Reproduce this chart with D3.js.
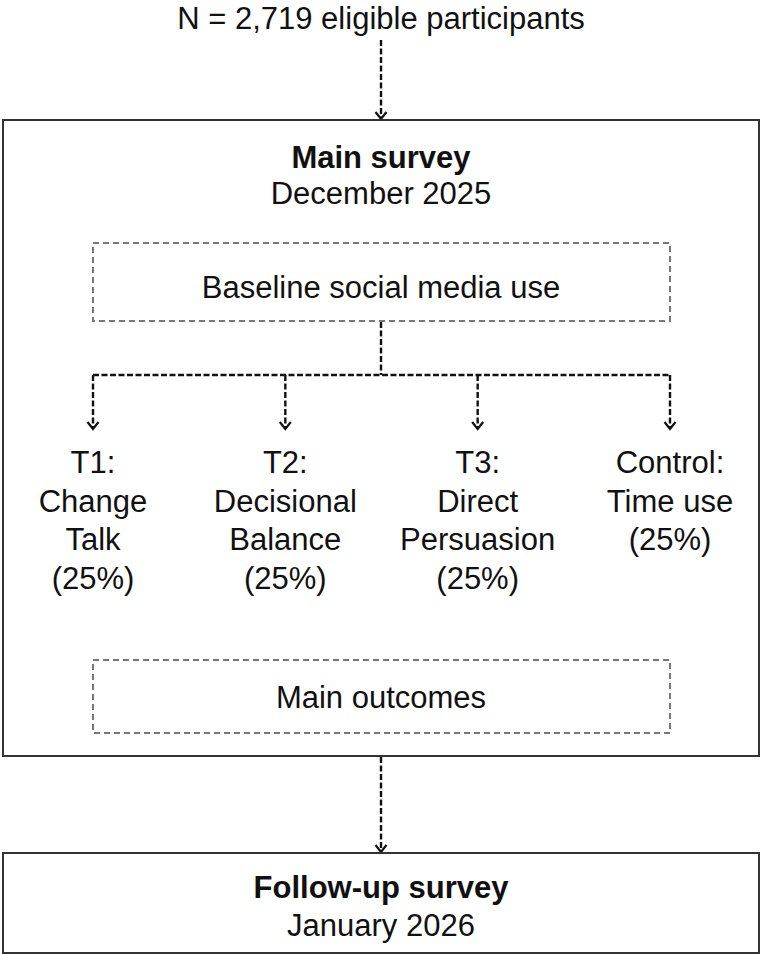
<!DOCTYPE html>
<html>
<head>
<meta charset="utf-8">
<script src="https://cdn.jsdelivr.net/npm/d3@7"></script>
<style>
  body { margin: 0; background: #fff; }
  text { font-family: "Liberation Sans", Arial, Helvetica, sans-serif; fill: #111; }
</style>
</head>
<body>
<svg id="flow" width="762" height="955"></svg>
<script>
'use strict';

// Texts of the flow chart
const sampleLabel = 'N = 2,719 eligible participants';
const mainSurvey = ['Main survey', 'December 2025'];
const baselineLabel = 'Baseline social media use';
const armIds = ['T1', 'T2', 'T3', 'Control'];
const armLabels = [
  ['T1:', 'Change', 'Talk', '(25%)'],
  ['T2:', 'Decisional', 'Balance', '(25%)'],
  ['T3:', 'Direct', 'Persuasion', '(25%)'],
  ['Control:', 'Time use', '(25%)']
];
const outcomeLabel = 'Main outcomes';
const followUp = ['Follow-up survey', 'January 2026'];

const W = 762, cx = 381, fs = 31;
const svg = d3.select('#flow');

// x position of each arm
const x = d3.scalePoint().domain(armIds).range([93, 670]);

/* Open arrow head (a V) pointing down, tip at (px, py) */
function arrowHead(px, py) {
  return 'M' + [px - 5.5, py - 7] + ' L' + [px, py] + ' L' + [px + 5.5, py - 7];
}

function dashedLine(x1, y1, x2, y2) {
  svg.append('line')
    .attr('x1', x1).attr('x2', x2)
    .attr('y1', y1).attr('y2', y2)
    .attr('stroke', '#111')
    .attr('stroke-width', 2.4)
    .attr('stroke-dasharray', '6,2.5');
}

function dashedArrow(x0, y0, y1) {
  dashedLine(x0, y0, x0, y1 - 1.5);
  svg.append('path')
    .attr('d', arrowHead(x0, y1))
    .attr('fill', 'none')
    .attr('stroke', '#111')
    .attr('stroke-width', 2.2);
}

function label(txt, px, py, bold) {
  svg.append('text')
    .attr('x', px).attr('y', py)
    .attr('text-anchor', 'middle')
    .attr('font-size', fs)
    .attr('font-weight', bold ? 'bold' : 'normal')
    .text(txt);
}

// Top label and first arrow
label(sampleLabel, cx, 29);
dashedArrow(cx, 40, 119);

// Main survey box
svg.append('rect')
  .attr('x', 3).attr('y', 120)
  .attr('width', W - 6).attr('height', 636)
  .attr('fill', 'none')
  .attr('stroke', '#333')
  .attr('stroke-width', 2);
label(mainSurvey[0], cx, 168, true);
label(mainSurvey[1], cx, 204);

// Dashed inner boxes
function dashedBox(y0, h, txt, ty) {
  svg.append('rect')
    .attr('x', x('T1')).attr('y', y0)
    .attr('width', x('Control') - x('T1')).attr('height', h)
    .attr('fill', 'none')
    .attr('stroke', '#777')
    .attr('stroke-width', 2)
    .attr('stroke-dasharray', '6,4');
  label(txt, cx, ty);
}
dashedBox(243, 78, baselineLabel, 298);

// Branching to the arms
const branchY = 375;
dashedLine(cx, 322, cx, branchY);
dashedLine(x('T1'), branchY, x('Control'), branchY);
armIds.forEach(function(id) { dashedArrow(x(id), branchY, 429); });

// Arm labels
armIds.forEach(function(id, i) {
  armLabels[i].forEach(function(line, j) {
    label(line, x(id), 473 + 38.5 * j);
  });
});

dashedBox(660, 73, outcomeLabel, 708);

// Arrow to follow-up
dashedArrow(cx, 757, 852);

svg.append('rect')
  .attr('x', 3).attr('y', 853)
  .attr('width', W - 6).attr('height', 100)
  .attr('fill', 'none')
  .attr('stroke', '#333')
  .attr('stroke-width', 2);
label(followUp[0], cx, 898, true);
label(followUp[1], cx, 936);
</script>
</body>
</html>
